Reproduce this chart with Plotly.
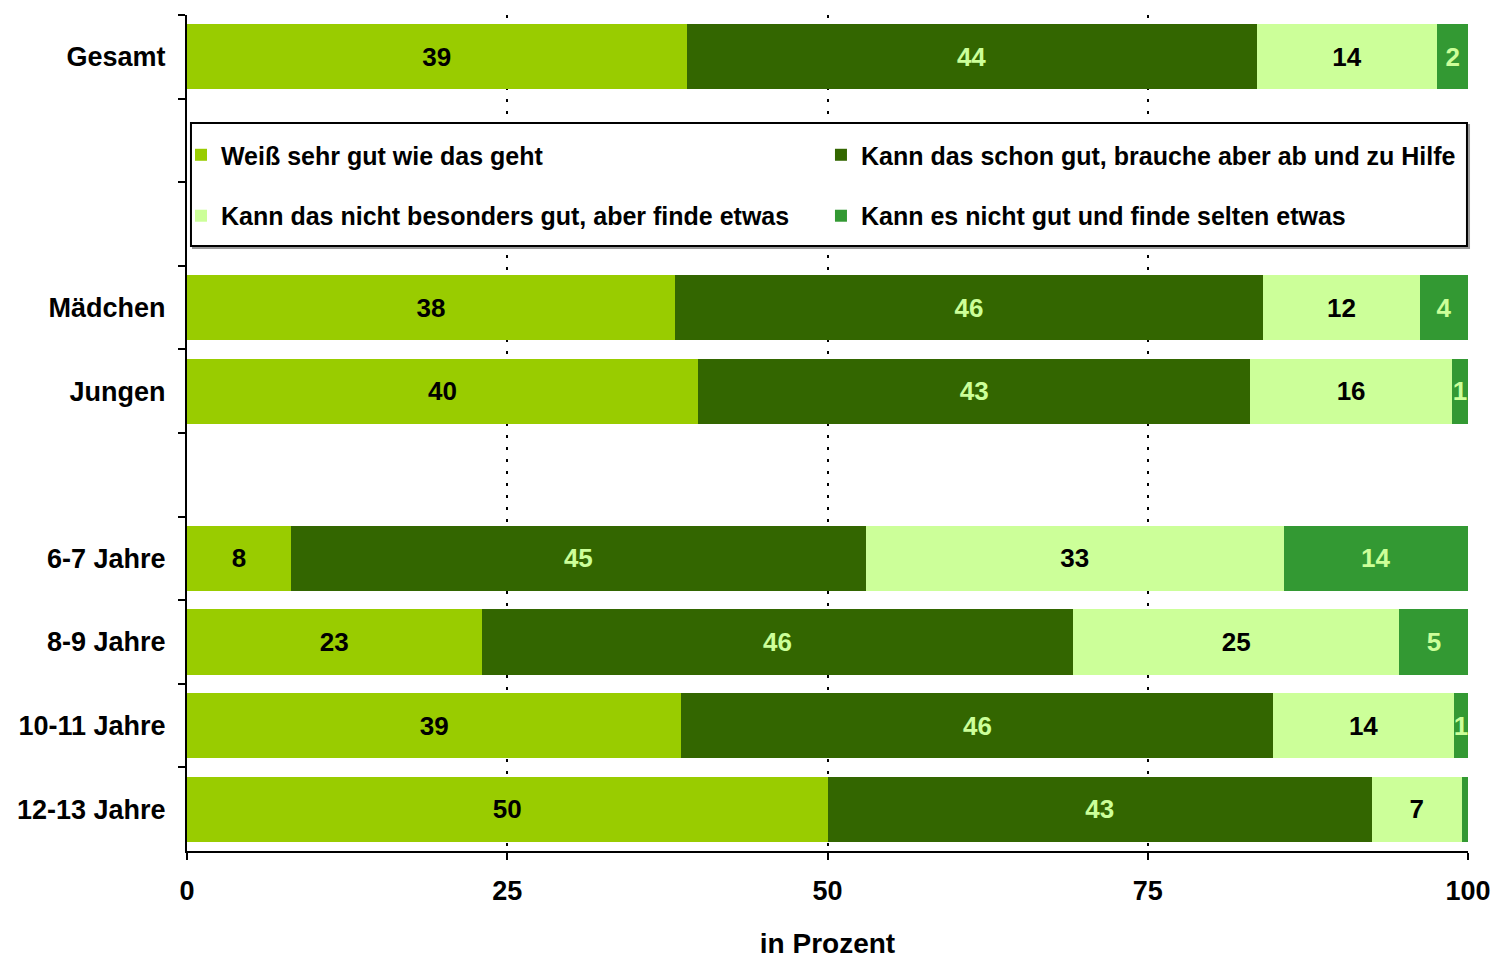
import plotly.graph_objects as go

# Rows (top to bottom), including empty spacer rows
row_order = ["Gesamt", "\u200b", "\u200b\u200b", "Mädchen", "Jungen", "\u200b\u200b\u200b",
             "6-7 Jahre", "8-9 Jahre", "10-11 Jahre", "12-13 Jahre"]
categories = ["Gesamt", "Mädchen", "Jungen", "6-7 Jahre", "8-9 Jahre", "10-11 Jahre", "12-13 Jahre"]

series_names = [
    "Weiß sehr gut wie das geht",
    "Kann das schon gut, brauche aber ab und zu Hilfe",
    "Kann das nicht besonders gut, aber finde etwas",
    "Kann es nicht gut und finde selten etwas",
]
# bar widths (percent, as drawn)
v_sehr_gut = [39.0, 38.1, 39.9, 8.1, 23.0, 38.6, 50.0]
v_schon_gut = [44.5, 45.9, 43.1, 44.9, 46.2, 46.2, 42.5]
v_nicht_bes = [14.1, 12.25, 15.75, 32.6, 25.4, 14.1, 7.0]
v_nicht_gut = [2.4, 3.75, 1.25, 14.4, 5.5, 1.1, 0.5]
# printed labels
l_sehr_gut = ["39", "38", "40", "8", "23", "39", "50"]
l_schon_gut = ["44", "46", "43", "45", "46", "46", "43"]
l_nicht_bes = ["14", "12", "16", "33", "25", "14", "7"]
l_nicht_gut = ["2", "4", "1", "14", "5", "1", ""]

x_ticks = [0, 25, 50, 75, 100]

colors = ["#99CC00", "#336600", "#CCFF99", "#339933"]
text_colors = ["#000000", "#CCFF99", "#000000", "#CCFF99"]
values = [v_sehr_gut, v_schon_gut, v_nicht_bes, v_nicht_gut]
labels = [l_sehr_gut, l_schon_gut, l_nicht_bes, l_nicht_gut]
legend_ids = ["legend", "legend2", "legend3", "legend4"]

FONT = "Liberation Sans, Arial, sans-serif"

fig = go.Figure()
for name, vals, labs, col, tcol, lg in zip(series_names, values, labels, colors, text_colors, legend_ids):
    fig.add_trace(go.Bar(
        y=categories, x=vals, name=name, orientation="h",
        marker=dict(color=col, line=dict(width=0)),
        text=labs, textposition="inside", insidetextanchor="middle", textangle=0,
        textfont=dict(family=FONT, size=26, color=tcol, weight="bold"),
        legend=lg, hoverinfo="skip", showlegend=True,
    ))

# legend placement: 2 columns x 2 rows inside the plot area
leg_x = [-0.0047, 0.4949, -0.0047, 0.4949]
leg_y = [0.8325, 0.8325, 0.7596, 0.7596]
leg_font = dict(family=FONT, size=25, color="black", weight="bold")
legend_layout = {}
for lg, lx, ly in zip(legend_ids, leg_x, leg_y):
    legend_layout[lg] = dict(x=lx, xanchor="left", y=ly, yanchor="middle",
                             bgcolor="rgba(0,0,0,0)", borderwidth=0, font=leg_font,
                             visible=True)

fig.update_layout(
    width=1491, height=957,
    barmode="stack", bargap=0.22,
    showlegend=True,
    margin=dict(l=179, r=31, t=7, b=114, autoexpand=False),
    paper_bgcolor="white", plot_bgcolor="white",
    font=dict(family=FONT, size=26, color="black", weight="bold"),
    uniformtext=dict(minsize=26, mode="show"),
    shapes=[
        dict(type="rect", xref="paper", yref="paper",
             x0=0.0031 + 0.0016, x1=0.9992 + 0.0016, y0=0.7237 - 0.0024, y1=0.8708 - 0.0024,
             line=dict(color="#999999", width=2), fillcolor="white", layer="above"),
        dict(type="rect", xref="paper", yref="paper",
             x0=0.0031, x1=0.9992, y0=0.7237, y1=0.8708,
             line=dict(color="black", width=2), fillcolor="white", layer="above"),
    ],
    **legend_layout,
)

fig.update_xaxes(
    range=[0, 100], tickvals=x_ticks, ticktext=[str(t) for t in x_ticks],
    showline=True, linecolor="black", linewidth=2,
    ticks="outside", ticklen=7, tickwidth=2, tickcolor="black",
    showgrid=True, gridcolor="black", gridwidth=2, griddash="3px,9px",
    zeroline=False, ticklabelstandoff=8, automargin=False,
    tickfont=dict(size=27),
    title=dict(text="in Prozent", standoff=28, font=dict(size=28)),
)
fig.update_yaxes(
    type="category", categoryorder="array", categoryarray=row_order,
    range=[9.5, -0.5],
    tickson="boundaries", ticks="outside", ticklen=7, tickwidth=2, tickcolor="black",
    showline=True, linecolor="black", linewidth=2, showgrid=False,
    ticklabelstandoff=14, automargin=False, tickfont=dict(size=27),
)

fig.write_html("out.html")
